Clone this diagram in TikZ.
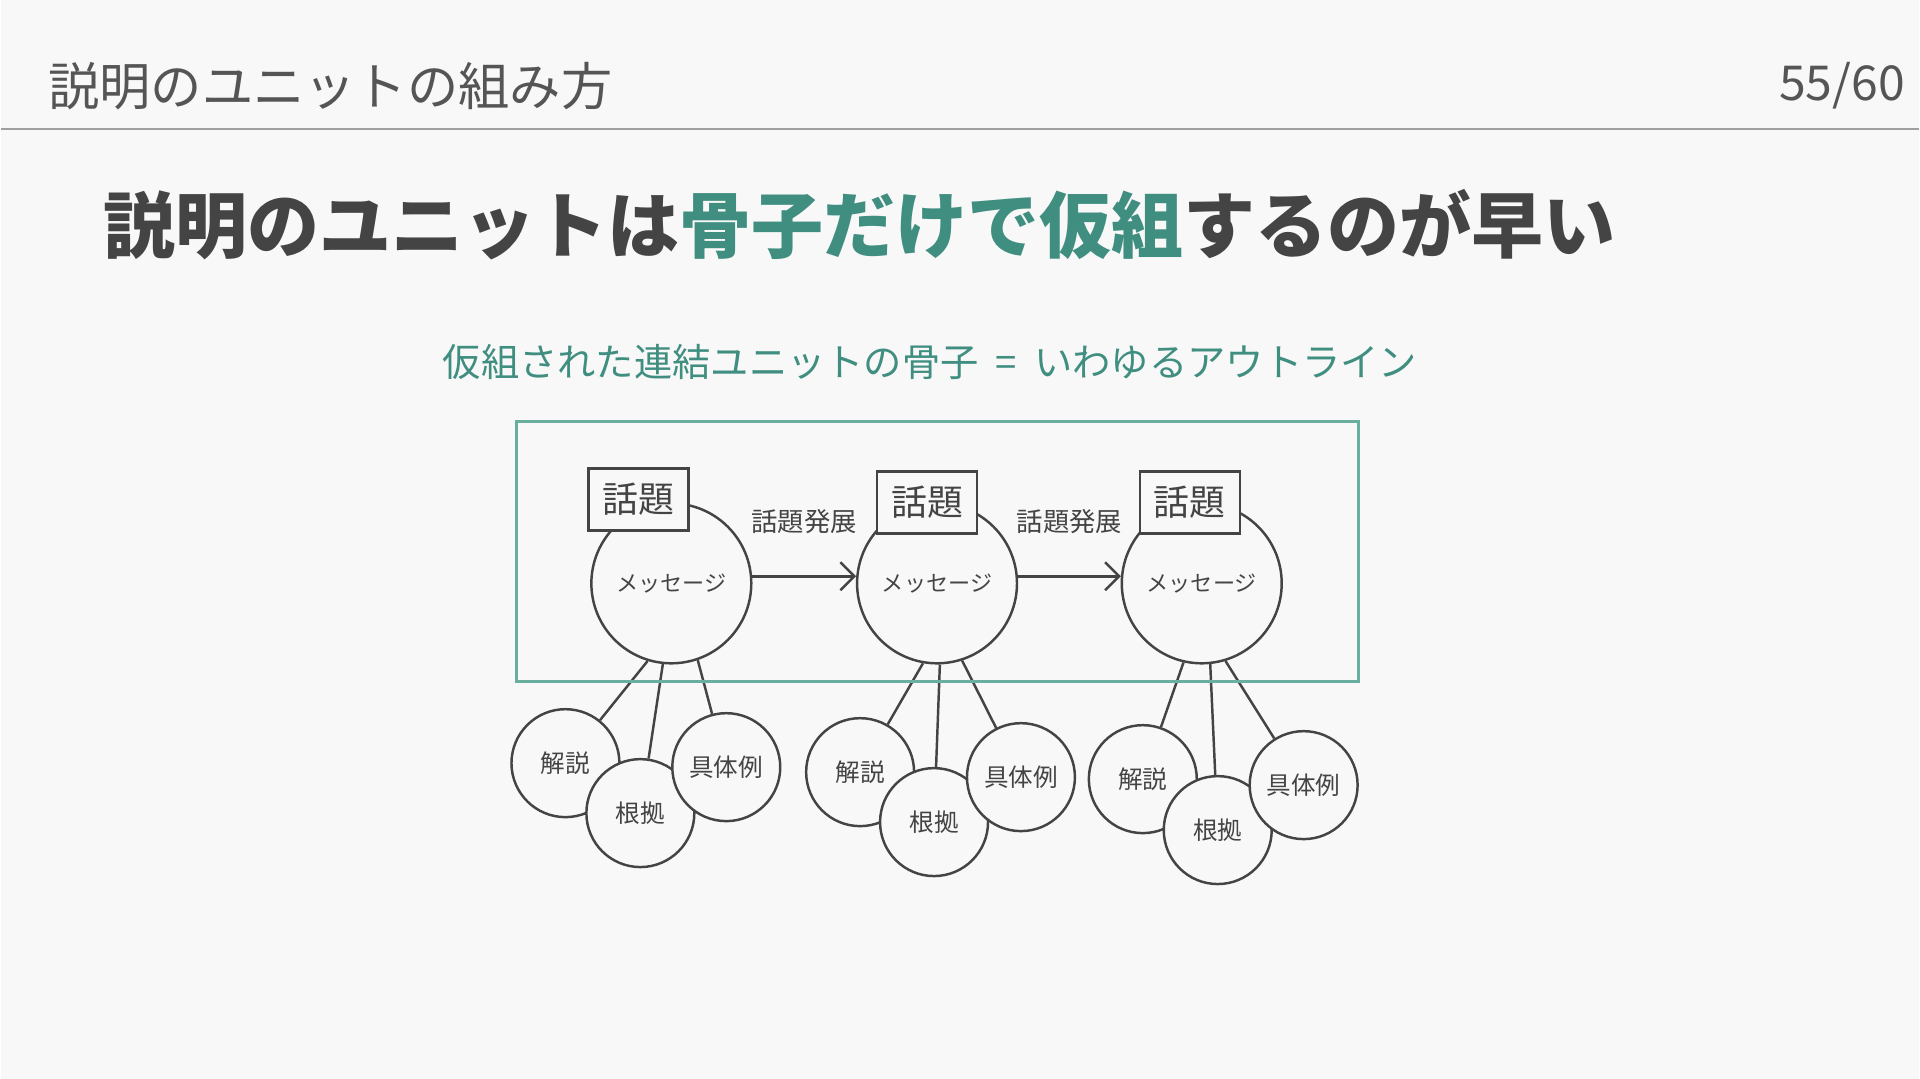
\documentclass[tikz,border=0pt]{standalone}
\usepackage{fontspec}
\setmainfont{Noto Sans CJK JP}
\usetikzlibrary{arrows.meta}
\definecolor{bgcol}{HTML}{F8F8F8}
\definecolor{inkcol}{HTML}{444444}
\definecolor{headcol}{HTML}{555555}
\definecolor{tealcol}{HTML}{3F8E80}
\definecolor{framecol}{HTML}{6AAE9F}

\begin{document}
\begin{tikzpicture}[x=0.01cm, y=-0.01cm, >={Straight Barb[length=4pt]}, line width=0.7pt, inkcol,
    msg/.style={circle, draw, fill=bgcol, minimum size=1.6cm, inner sep=0pt, font=\fontsize{6.3}{7}\selectfont},
    topic/.style={rectangle, draw, fill=bgcol, minimum width=1cm, minimum height=0.62cm, inner sep=0pt, font=\fontsize{10.2}{11}\selectfont},
    leaf/.style={circle, draw, fill=bgcol, minimum size=1.08cm, inner sep=0pt, font=\fontsize{7}{8}\selectfont},
    devlabel/.style={font=\fontsize{7.5}{8}\selectfont}]
    % 背景
    \fill[bgcol] (0,0) rectangle (1920,1080);

    % ヘッダ
    \node[anchor=west, inner sep=0pt, headcol, font=\fontsize{14.6}{16}\selectfont] (head) at (46,86) {説明のユニットの組み方};
    \node[anchor=east, inner sep=0pt, headcol, font=\fontsize{13.7}{15}\selectfont] (page) at (1907,86) {55/60};
    \draw[gray!75, line width=0.6pt] (0,129) -- (1920,129);

    % タイトル
    \node[anchor=west, inner sep=0pt, inkcol, font=\fontsize{20.5}{22}\selectfont\bfseries] (title) at (101,225)
        {説明のユニットは\textcolor{tealcol}{骨子だけで仮組}するのが早い};

    % 手書きの見出し
    \node[anchor=west, inner sep=0pt, tealcol, font=\fontsize{10.9}{12}\selectfont] (caption) at (441,362)
        {仮組された連結ユニットの骨子\ \ =\ \ いわゆるアウトライン};

    % メッセージ
    \node[msg] (m1) at (671,584) {メッセージ};
    \node[msg] (m2) at (937,584) {メッセージ};
    \node[msg] (m3) at (1202,584) {メッセージ};

    % 話題
    \node[topic] (t1) at (638,500) {話題};
    \node[topic] (t2) at (927,503) {話題};
    \node[topic] (t3) at (1190,503) {話題};

    % 話題発展
    \draw[->] (m1.5) -- (m2.175) node[devlabel, midway, above=0.3cm] {話題発展};
    \draw[->] (m2.5) -- (m3.175) node[devlabel, midway, above=0.3cm] {話題発展};

    % 解説・根拠・具体例
    \node[leaf] (k1) at (565,764) {解説};
    \node[leaf] (r1) at (640,814) {根拠};
    \node[leaf] (g1) at (726,768) {具体例};
    \node[leaf] (k2) at (860,773) {解説};
    \node[leaf] (r2) at (934,823) {根拠};
    \node[leaf] (g2) at (1021,778) {具体例};
    \node[leaf] (k3) at (1143,780) {解説};
    \node[leaf] (r3) at (1218,831) {根拠};
    \node[leaf] (g3) at (1304,786) {具体例};

    \draw (m1.253) -- (k1);
    \draw (m1.264) -- (r1);
    \draw (m1.289) -- (g1);
    \draw (m2.260) -- (k2);
    \draw (m2.272) -- (r2);
    \draw (m2.288) -- (g2);
    \draw (m3.257) -- (k3);
    \draw (m3.276) -- (r3);
    \draw (m3.287) -- (g3);

    % 枠
    \draw[framecol, line width=0.9pt] (516,422) rectangle (1359,682);
\end{tikzpicture}
\end{document}
